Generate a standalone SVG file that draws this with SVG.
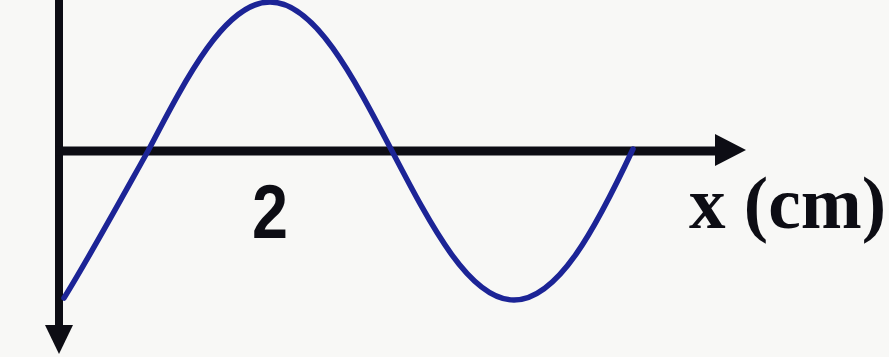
<svg xmlns="http://www.w3.org/2000/svg" width="889" height="357" viewBox="0 0 889 357">
<style>
.axis{stroke:#0d0d14;fill:none;stroke-linecap:butt}
.head{fill:#0d0d14}
.wave{stroke:#1c2496;stroke-width:5.5;fill:none;stroke-linecap:round;stroke-linejoin:round}
.lbl{fill:#0d0d14;font-weight:bold}
</style>
<rect width="889" height="357" fill="#f8f8f6"/>
<g id="axes">
<line class="axis" x1="59" y1="0" x2="59" y2="330" stroke-width="8"/>
<polygon class="head" points="45,325 73,325 59,354"/>
<line class="axis" x1="55" y1="151" x2="720" y2="151" stroke-width="9"/>
<polygon class="head" points="715,134 746,150 715,166"/>
</g>
<g id="curve">
<path class="wave" d="M64,298 C90,256 125,192 148,151 C187.8,74.7 225.85,2 270,2 C314.15,2 352.2,74.7 392,151 C431.8,227.3 469.85,300 514,300 C558.15,300 596.2,227.3 633,149"/>
</g>
<g id="labels">
<text class="lbl" x="252" y="238" font-family="Liberation Sans, Arial, sans-serif" font-size="76" textLength="36" lengthAdjust="spacingAndGlyphs">2</text>
<text class="lbl" x="689" y="228" font-family="Liberation Serif, Times New Roman, serif" font-size="74" textLength="197" lengthAdjust="spacingAndGlyphs">x (cm)</text>
</g>
</svg>
